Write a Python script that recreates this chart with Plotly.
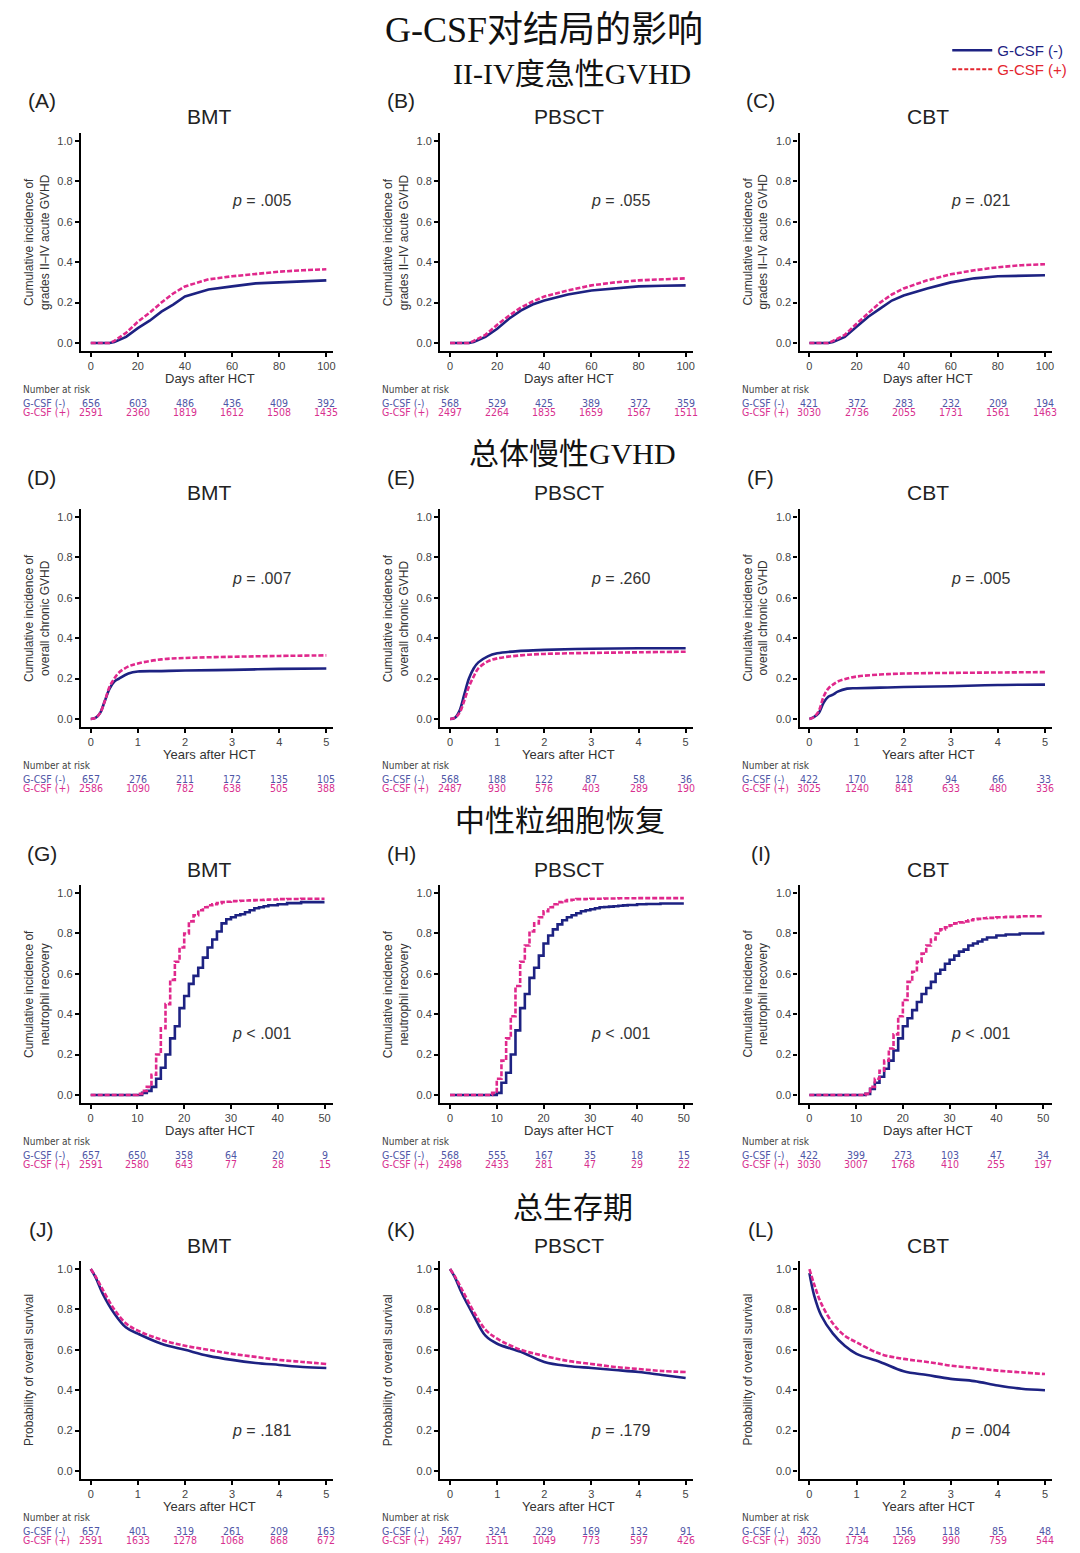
import plotly.graph_objects as go

# page is 1080x1553; the browser body adds an 8px margin, so the figure is 1072x1545
PAGE_OFF = 8
FW, FH = 1072, 1545

# ---------------- DATA ----------------
# Row 1: grades II-IV acute GVHD (days after HCT)
agvhd_days = [0, 8, 10, 15, 20, 25, 30, 35, 40, 50, 60, 70, 80, 90, 100]
A_neg = [0, 0, 0.005, 0.03, 0.073, 0.11, 0.155, 0.19, 0.23, 0.265, 0.28, 0.295, 0.30, 0.305, 0.31]
A_pos = [0, 0, 0.01, 0.05, 0.105, 0.15, 0.20, 0.245, 0.28, 0.315, 0.33, 0.343, 0.353, 0.36, 0.365]
B_neg = [0, 0, 0.005, 0.03, 0.07, 0.12, 0.16, 0.19, 0.21, 0.24, 0.26, 0.27, 0.28, 0.283, 0.285]
B_pos = [0, 0, 0.01, 0.04, 0.09, 0.135, 0.175, 0.205, 0.23, 0.26, 0.285, 0.30, 0.31, 0.315, 0.32]
C_neg = [0, 0, 0.005, 0.03, 0.08, 0.13, 0.17, 0.21, 0.235, 0.27, 0.30, 0.32, 0.33, 0.333, 0.335]
C_pos = [0, 0, 0.01, 0.04, 0.095, 0.15, 0.20, 0.24, 0.27, 0.31, 0.34, 0.36, 0.375, 0.385, 0.39]

# Row 2: overall chronic GVHD (years after HCT)
cgvhd_years = [0, 0.1, 0.2, 0.3, 0.4, 0.5, 0.6, 0.8, 1, 1.5, 2, 3, 4, 5]
D_neg = [0, 0.005, 0.03, 0.09, 0.15, 0.185, 0.20, 0.225, 0.235, 0.237, 0.24, 0.243, 0.248, 0.25]
D_pos = [0, 0.005, 0.03, 0.09, 0.16, 0.20, 0.23, 0.26, 0.275, 0.295, 0.302, 0.308, 0.312, 0.315]
E_neg = [0, 0.005, 0.04, 0.12, 0.20, 0.25, 0.28, 0.31, 0.325, 0.337, 0.342, 0.348, 0.35, 0.35]
E_pos = [0, 0.005, 0.03, 0.09, 0.16, 0.21, 0.25, 0.285, 0.30, 0.315, 0.322, 0.327, 0.33, 0.333]
F_neg = [0, 0.01, 0.03, 0.08, 0.11, 0.12, 0.135, 0.15, 0.152, 0.155, 0.158, 0.162, 0.168, 0.17]
F_pos = [0, 0.01, 0.04, 0.11, 0.15, 0.17, 0.185, 0.20, 0.21, 0.22, 0.225, 0.228, 0.23, 0.232]

# Row 3: neutrophil recovery (days after HCT, step curves)
neut_days = [0, 9, 10, 11, 12, 13, 14, 15, 16, 17, 18, 19, 20, 21, 22, 23, 24, 25, 26, 27,
             28, 29, 30, 31, 32, 33, 34, 35, 36, 37, 38, 40, 42, 45, 50]
G_neg = [0, 0, 0, 0.01, 0.02, 0.04, 0.08, 0.135, 0.20, 0.28, 0.34, 0.43, 0.49, 0.55, 0.59, 0.63,
         0.68, 0.73, 0.77, 0.81, 0.85, 0.87, 0.88, 0.89, 0.895, 0.905, 0.915, 0.925, 0.93, 0.935,
         0.94, 0.945, 0.95, 0.955, 0.955]
G_pos = [0, 0, 0.005, 0.02, 0.04, 0.10, 0.20, 0.33, 0.45, 0.57, 0.66, 0.73, 0.80, 0.86, 0.89,
         0.915, 0.93, 0.94, 0.945, 0.95, 0.955, 0.957, 0.96, 0.961, 0.962, 0.963, 0.964, 0.965,
         0.966, 0.967, 0.968, 0.97, 0.971, 0.972, 0.972]
H_neg = [0, 0, 0.01, 0.06, 0.11, 0.20, 0.32, 0.43, 0.50, 0.58, 0.63, 0.69, 0.75, 0.79, 0.82,
         0.845, 0.865, 0.88, 0.89, 0.90, 0.91, 0.915, 0.92, 0.925, 0.93, 0.931, 0.933, 0.935,
         0.937, 0.939, 0.941, 0.945, 0.946, 0.948, 0.948]
H_pos = [0, 0.01, 0.08, 0.17, 0.28, 0.39, 0.54, 0.66, 0.74, 0.81, 0.85, 0.88, 0.91, 0.93, 0.945,
         0.955, 0.96, 0.965, 0.967, 0.97, 0.97, 0.971, 0.972, 0.972, 0.972, 0.973, 0.973, 0.973,
         0.974, 0.974, 0.974, 0.975, 0.975, 0.975, 0.975]
I_neg = [0, 0, 0, 0, 0.005, 0.03, 0.06, 0.09, 0.13, 0.17, 0.22, 0.28, 0.34, 0.38, 0.42, 0.46,
         0.50, 0.53, 0.56, 0.60, 0.62, 0.65, 0.67, 0.69, 0.71, 0.72, 0.74, 0.75, 0.76, 0.77,
         0.78, 0.79, 0.795, 0.80, 0.81]
I_pos = [0, 0, 0, 0, 0.005, 0.04, 0.08, 0.12, 0.17, 0.23, 0.30, 0.39, 0.47, 0.56, 0.61, 0.66,
         0.70, 0.74, 0.77, 0.80, 0.82, 0.83, 0.84, 0.85, 0.855, 0.86, 0.865, 0.87, 0.872, 0.875,
         0.877, 0.88, 0.882, 0.885, 0.885]

# Row 4: overall survival (years after HCT)
os_years = [0, 0.1, 0.25, 0.5, 0.75, 1, 1.5, 2, 2.5, 3, 3.5, 4, 4.5, 5]
J_neg = [1, 0.96, 0.88, 0.78, 0.71, 0.68, 0.63, 0.60, 0.57, 0.55, 0.535, 0.525, 0.515, 0.51]
J_pos = [1, 0.965, 0.90, 0.80, 0.73, 0.695, 0.65, 0.62, 0.60, 0.58, 0.565, 0.55, 0.54, 0.53]
K_neg = [1, 0.96, 0.88, 0.77, 0.67, 0.63, 0.59, 0.54, 0.52, 0.51, 0.50, 0.49, 0.475, 0.46]
K_pos = [1, 0.965, 0.90, 0.79, 0.70, 0.655, 0.60, 0.57, 0.545, 0.53, 0.515, 0.505, 0.495, 0.49]
L_neg = [0.98, 0.87, 0.77, 0.68, 0.62, 0.58, 0.54, 0.494, 0.475, 0.456, 0.445, 0.423, 0.407, 0.40]
L_pos = [1, 0.925, 0.83, 0.73, 0.67, 0.637, 0.58, 0.555, 0.54, 0.522, 0.51, 0.497, 0.488, 0.48]

# Tick values
ticks_days100 = [0, 20, 40, 60, 80, 100]
ticks_days50 = [0, 10, 20, 30, 40, 50]
ticks_years = [0, 1, 2, 3, 4, 5]
y_ticks = [0.0, 0.2, 0.4, 0.6, 0.8, 1.0]

# Number at risk
risk_A_neg = [656, 603, 486, 436, 409, 392]
risk_A_pos = [2591, 2360, 1819, 1612, 1508, 1435]
risk_B_neg = [568, 529, 425, 389, 372, 359]
risk_B_pos = [2497, 2264, 1835, 1659, 1567, 1511]
risk_C_neg = [421, 372, 283, 232, 209, 194]
risk_C_pos = [3030, 2736, 2055, 1731, 1561, 1463]
risk_D_neg = [657, 276, 211, 172, 135, 105]
risk_D_pos = [2586, 1090, 782, 638, 505, 388]
risk_E_neg = [568, 188, 122, 87, 58, 36]
risk_E_pos = [2487, 930, 576, 403, 289, 190]
risk_F_neg = [422, 170, 128, 94, 66, 33]
risk_F_pos = [3025, 1240, 841, 633, 480, 336]
risk_G_neg = [657, 650, 358, 64, 20, 9]
risk_G_pos = [2591, 2580, 643, 77, 28, 15]
risk_H_neg = [568, 555, 167, 35, 18, 15]
risk_H_pos = [2498, 2433, 281, 47, 29, 22]
risk_I_neg = [422, 399, 273, 103, 47, 34]
risk_I_pos = [3030, 3007, 1768, 410, 255, 197]
risk_J_neg = [657, 401, 319, 261, 209, 163]
risk_J_pos = [2591, 1633, 1278, 1068, 868, 672]
risk_K_neg = [567, 324, 229, 169, 132, 91]
risk_K_pos = [2497, 1511, 1049, 773, 597, 426]
risk_L_neg = [422, 214, 156, 118, 85, 48]
risk_L_pos = [3030, 1734, 1269, 990, 759, 544]

p_values = ["= .005", "= .055", "= .021",
            "= .007", "= .260", "= .005",
            "< .001", "< .001", "< .001",
            "= .181", "= .179", "= .004"]
panel_labels = ["(A)", "(B)", "(C)", "(D)", "(E)", "(F)", "(G)", "(H)", "(I)", "(J)", "(K)", "(L)"]
col_titles = ["BMT", "PBSCT", "CBT"]
section_titles = ["II-IV度急性GVHD", "总体慢性GVHD", "中性粒细胞恢复", "总生存期"]
main_title = "G-CSF对结局的影响"
y_titles = ["Cumulative incidence of<br>grades II–IV acute GVHD",
            "Cumulative incidence of<br>overall chronic GVHD",
            "Cumulative incidence of<br>neutrophil recovery",
            "Probability of overall survival"]
x_titles = ["Days after HCT", "Years after HCT", "Days after HCT", "Years after HCT"]
legend_names = ["G-CSF (-)", "G-CSF (+)"]

# ---------------- STYLE ----------------
BLUE = "#1d2282"
PINK = "#e0288c"
LEG_RED = "#e3262f"
RISK_BLUE = "#4f56a6"
RISK_PINK = "#d8308f"
SANS = "Liberation Sans, Arial, sans-serif"
NARROW = "Liberation Sans Narrow, DejaVu Sans Condensed, Liberation Sans, sans-serif"
SERIF = "Liberation Serif, Noto Sans CJK SC, serif"


def fx(px):
    return (px - PAGE_OFF) / FW


def fy(py):
    return 1 - (py - PAGE_OFF) / FH


rows = [
    dict(x=agvhd_days, curves=[(A_neg, A_pos), (B_neg, B_pos), (C_neg, C_pos)], ticks=ticks_days100,
         xr=[-4.2, 103], shape="linear",
         risk=[(risk_A_neg, risk_A_pos), (risk_B_neg, risk_B_pos), (risk_C_neg, risk_C_pos)], p_py=201),
    dict(x=cgvhd_years, curves=[(D_neg, D_pos), (E_neg, E_pos), (F_neg, F_pos)], ticks=ticks_years,
         xr=[-0.21, 5.15], shape="spline",
         risk=[(risk_D_neg, risk_D_pos), (risk_E_neg, risk_E_pos), (risk_F_neg, risk_F_pos)], p_py=579),
    dict(x=neut_days, curves=[(G_neg, G_pos), (H_neg, H_pos), (I_neg, I_pos)], ticks=ticks_days50,
         xr=[-2.1, 51.9], shape="hv",
         risk=[(risk_G_neg, risk_G_pos), (risk_H_neg, risk_H_pos), (risk_I_neg, risk_I_pos)], p_py=1033),
    dict(x=os_years, curves=[(J_neg, J_pos), (K_neg, K_pos), (L_neg, L_pos)], ticks=ticks_years,
         xr=[-0.21, 5.15], shape="spline",
         risk=[(risk_J_neg, risk_J_pos), (risk_K_neg, risk_K_pos), (risk_L_neg, risk_L_pos)], p_py=1430),
]

ROW_DY = 376
COL_DX = 360

fig = go.Figure()
annotations = []


def ann(text, px, py, size, color="#222", family=SANS, xanchor="center", **kw):
    annotations.append(dict(text=text, x=fx(px), y=fy(py), xref="paper", yref="paper",
                            xanchor=xanchor, yanchor="middle", showarrow=False,
                            font=dict(size=size, color=color, family=family), **kw))


layout_axes = {}
for r, row in enumerate(rows):
    for c in range(3):
        i = r * 3 + c
        n = i + 1
        xa = "x" if n == 1 else f"x{n}"
        ya = "y" if n == 1 else f"y{n}"
        neg, pos = row["curves"][c]
        fig.add_trace(go.Scatter(x=row["x"], y=neg, mode="lines", xaxis=xa, yaxis=ya,
                                 line=dict(color=BLUE, width=2.6, shape=row["shape"]),
                                 showlegend=False, hoverinfo="skip"))
        fig.add_trace(go.Scatter(x=row["x"], y=pos, mode="lines", xaxis=xa, yaxis=ya,
                                 line=dict(color=PINK, width=2.6, dash="5px,2px", shape=row["shape"]),
                                 showlegend=False, hoverinfo="skip"))
        left, right = 81 + COL_DX * c, 334 + COL_DX * c
        top, bot = 133 + ROW_DY * r, 351 + ROW_DY * r
        axis_common = dict(showgrid=False, zeroline=False, showline=True, linecolor="black",
                           linewidth=2.2, ticks="outside", ticklen=4, tickwidth=1.5,
                           tickcolor="black", tickfont=dict(size=11, color="#444", family=SANS))
        layout_axes["xaxis" if n == 1 else f"xaxis{n}"] = dict(
            domain=[fx(left), fx(right)], range=row["xr"], tickvals=row["ticks"],
            anchor=ya, **axis_common)
        layout_axes["yaxis" if n == 1 else f"yaxis{n}"] = dict(
            domain=[fy(bot), fy(top)], range=[-0.04, 1.04], tickvals=y_ticks,
            tickformat=".1f", anchor=xa, **axis_common)

        ox, oy = COL_DX * c, ROW_DY * r
        # panel label and column title
        ann(panel_labels[i], 42 + ox, 101 + oy, 21)
        ann(col_titles[c], 210 + ox, 117 + oy, 21)
        # y-axis title
        ytx = 37 if "<br>" in y_titles[r] else 29
        ann(y_titles[r], ytx + ox, 242 + oy, 12, color="#333", textangle=-90)
        # x-axis title
        ann(x_titles[r], 210 + ox, 378 + oy, 13, color="#333")
        # p value
        ann(f"<i>p</i> {p_values[i]}", 262 + ox, row["p_py"], 16, color="#333")
        # number at risk
        ann("Number at risk", 21 + ox, 389 + oy, 10, color="#444", family=NARROW, xanchor="left")
        ann(legend_names[0], 21 + ox, 403 + oy, 10.5, color=RISK_BLUE, family=NARROW, xanchor="left")
        ann(legend_names[1], 21 + ox, 412 + oy, 10.5, color=RISK_PINK, family=NARROW, xanchor="left")
        rneg, rpos = row["risk"][c]
        for tv, vn, vp in zip(row["ticks"], rneg, rpos):
            for val, py, colr in ((vn, 403 + oy, RISK_BLUE), (vp, 412 + oy, RISK_PINK)):
                annotations.append(dict(text=str(val), x=tv, y=fy(py), xref=xa, yref="paper",
                                        xanchor="center", yanchor="middle", showarrow=False,
                                        font=dict(size=10.5, color=colr, family=NARROW)))

# Section titles
ann(main_title, 545, 30, 36, color="#111", family=SERIF)
for txt, cx, cy in zip(section_titles, [573, 574, 561, 574], [73, 453, 820, 1207]):
    ann(txt, cx, cy, 30, color="#111", family=SERIF)

# Legend entries (each in its own legend box for exact placement)
fig.add_trace(go.Scatter(x=[None], y=[None], mode="lines", legend="legend",
                         name=f"<span style='color:{BLUE}'>{legend_names[0]}</span>",
                         line=dict(color=BLUE, width=2.6)))
fig.add_trace(go.Scatter(x=[None], y=[None], mode="lines", legend="legend2",
                         name=f"<span style='color:{LEG_RED}'>{legend_names[1]}</span>",
                         line=dict(color=LEG_RED, width=2.2, dash="4px,2px")))

leg_common = dict(xanchor="left", yanchor="top", bgcolor="rgba(0,0,0,0)",
                  font=dict(size=15, family=SANS), itemwidth=40)

fig.update_layout(
    width=FW, height=FH, margin=dict(l=0, r=0, t=0, b=0),
    paper_bgcolor="white", plot_bgcolor="white",
    annotations=annotations,
    legend=dict(x=fx(949), y=fy(34), **leg_common),
    legend2=dict(x=fx(949), y=fy(53), **leg_common),
    **layout_axes,
)

fig.write_html("out.html")
